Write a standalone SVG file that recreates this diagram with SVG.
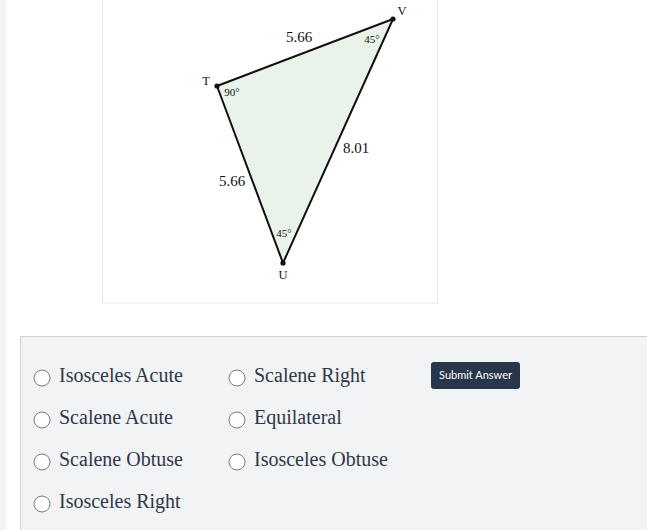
<svg xmlns="http://www.w3.org/2000/svg" width="647" height="530" viewBox="0 0 647 530">
<style>
.lbl{font-family:"Liberation Serif","DejaVu Serif",serif;fill:#111}
.opt{font-family:"Liberation Serif","DejaVu Serif",serif;font-size:20px;fill:#2f3747}
.radio{fill:#fff;stroke:#7a7a7a;stroke-width:1}
</style>
<rect x="0" y="0" width="647" height="530" fill="#fff"/>
<rect x="0" y="0" width="6" height="530" fill="#f4f4f4"/>
<g id="figure">
<rect x="102.5" y="-2" width="335" height="305" fill="#fff" stroke="#e6e6e6"/>
</g>
<g id="triangle">
<polygon points="217,86 393,19 283,263" fill="#e9f3ea" stroke="#111" stroke-width="2" stroke-linejoin="round"/>
<circle cx="217" cy="86" r="2.6" fill="#111"/>
<circle cx="393" cy="19" r="2.6" fill="#111"/>
<circle cx="283" cy="263" r="2.6" fill="#111"/>
<text class="lbl" x="206" y="85" font-size="12.5" text-anchor="middle">T</text>
<text class="lbl" x="402" y="15" font-size="12.5" text-anchor="middle">V</text>
<text class="lbl" x="283" y="279" font-size="12.5" text-anchor="middle">U</text>
<text class="lbl" x="232" y="96" font-size="11" text-anchor="middle">90°</text>
<text class="lbl" x="372" y="43" font-size="11" text-anchor="middle">45°</text>
<text class="lbl" x="284" y="237" font-size="11" text-anchor="middle">45°</text>
<text class="lbl" x="299" y="42" font-size="15" text-anchor="middle">5.66</text>
<text class="lbl" x="356" y="153" font-size="15" text-anchor="middle">8.01</text>
<text class="lbl" x="232" y="186" font-size="15" text-anchor="middle">5.66</text>
</g>
<g id="panel">
<rect x="20.5" y="336.5" width="640" height="200" fill="#f1f3f5" stroke="#cfd3d8"/>
</g>
<g id="options">
<circle class="radio" cx="42" cy="378" r="8"/>
<text class="opt" x="59" y="382">Isosceles Acute</text>
<circle class="radio" cx="42" cy="420" r="8"/>
<text class="opt" x="59" y="424">Scalene Acute</text>
<circle class="radio" cx="42" cy="462" r="8"/>
<text class="opt" x="59" y="466">Scalene Obtuse</text>
<circle class="radio" cx="42" cy="504" r="8"/>
<text class="opt" x="59" y="508">Isosceles Right</text>
<circle class="radio" cx="237" cy="378" r="8"/>
<text class="opt" x="254" y="382">Scalene Right</text>
<circle class="radio" cx="237" cy="420" r="8"/>
<text class="opt" x="254" y="424">Equilateral</text>
<circle class="radio" cx="237" cy="462" r="8"/>
<text class="opt" x="254" y="466">Isosceles Obtuse</text>
</g>
<g id="submit">
<rect x="431" y="362" width="89" height="27" rx="3" fill="#27364a"/>
<text x="475.5" y="379" font-family="Lato,'Liberation Sans',sans-serif" font-size="11" fill="#fff" text-anchor="middle">Submit Answer</text>
</g>
</svg>
